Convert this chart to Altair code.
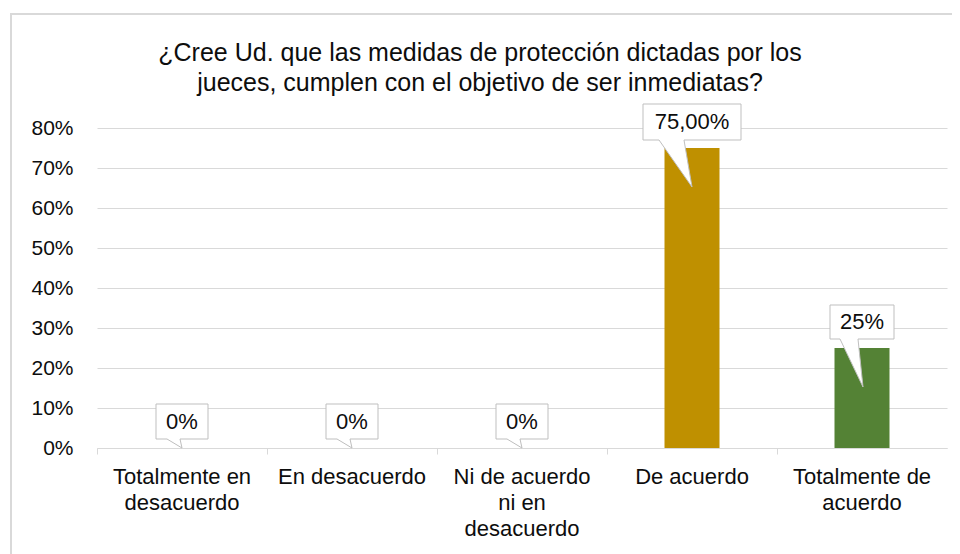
import altair as alt
import pandas as pd

# ---- data ----
categories = [
    "Totalmente en desacuerdo",
    "En desacuerdo",
    "Ni de acuerdo ni en desacuerdo",
    "De acuerdo",
    "Totalmente de acuerdo",
]
axis_label_lines = [
    ["Totalmente en", "desacuerdo"],
    ["En desacuerdo"],
    ["Ni de acuerdo", "ni en", "desacuerdo"],
    ["De acuerdo"],
    ["Totalmente de", "acuerdo"],
]
values = [0.0, 0.0, 0.0, 0.75, 0.25]
value_labels = ["0%", "0%", "0%", "75,00%", "25%"]
callout_kind = ["small", "small", "small", "wide", "mid"]
bar_colors = ["#4472C4", "#ED7D31", "#A5A5A5", "#BF9000", "#548235"]
y_ticks = [0, 0.1, 0.2, 0.3, 0.4, 0.5, 0.6, 0.7, 0.8]
title_lines = [
    "¿Cree Ud. que las medidas de protección dictadas por los",
    "jueces, cumplen con el objetivo de ser inmediatas?",
]

# callout shapes (pixel coordinates, anchored at the data point)
callout_paths = {
    "wide": "M -49 -44 L 49 -44 L 49 -8 L -8 -8 L 0 39 L -33 -8 L -49 -8 Z",
    "mid": "M -32 -43 L 32 -43 L 32 -9 L -4 -9 L 1 39 L -22 -9 L -32 -9 Z",
    "small": "M -26 -44 L 26 -44 L 26 -9 L -2 -9 L 0 0 L -15 -9 L -26 -9 Z",
}

df = pd.DataFrame({
    "cat": categories,
    "value": values,
    "label": value_labels,
    "kind": callout_kind,
})

FONT = "Liberation Sans"
TXT = "#0d0d0d"
GRID = "#d9d9d9"

# label expression for multi-line category labels
expr = "''"
for cat, lines in reversed(list(zip(categories, axis_label_lines))):
    arr = "[" + ",".join("'" + l + "'" for l in lines) + "]"
    expr = f"datum.value == '{cat}' ? {arr} : ({expr})"

x_axis = alt.Axis(
    title=None,
    labelAngle=0,
    labelExpr=expr,
    labelFont=FONT,
    labelFontSize=22,
    labelLineHeight=26,
    labelColor=TXT,
    labelPadding=12,
    labelBaseline="top",
    domainColor=GRID,
    tickColor=GRID,
    tickSize=6,
    bandPosition=0,
    grid=False,
)
x_enc = alt.X(
    "cat:N",
    sort=categories,
    scale=alt.Scale(domain=categories, paddingInner=0, paddingOuter=0),
    axis=x_axis,
)
y_axis = alt.Axis(
    title=None,
    values=y_ticks,
    tickCount=9,
    format=".0%",
    labelFont=FONT,
    labelFontSize=21,
    labelColor=TXT,
    labelPadding=24,
    labelOverlap=False,
    ticks=False,
    tickSize=0,
    domain=False,
    grid=True,
    gridColor=GRID,
    gridWidth=1,
)
y_enc = alt.Y(
    "value:Q",
    scale=alt.Scale(domain=[0, 0.8], nice=False),
    axis=y_axis,
)

base = alt.Chart(df)

bars = base.mark_bar(size=55).encode(
    x=x_enc,
    y=y_enc,
    color=alt.Color("cat:N", scale=alt.Scale(domain=categories, range=bar_colors), legend=None),
)

callouts = base.mark_point(
    filled=True, fill="white", stroke="#bfbfbf", strokeWidth=1, opacity=1, size=4
).encode(
    x=x_enc,
    y=y_enc,
    shape=alt.Shape(
        "kind:N",
        scale=alt.Scale(domain=list(callout_paths.keys()), range=list(callout_paths.values())),
        legend=None,
    ),
)

texts = base.mark_text(
    font=FONT, fontSize=22, color=TXT, baseline="middle", align="center", yOffset=-26
).encode(
    x=x_enc,
    y=y_enc,
    text="label:N",
)

frame = alt.Chart(pd.DataFrame({"a": [0]})).mark_rect(
    fillOpacity=0, stroke=GRID, strokeWidth=2
).encode(
    x=alt.value(-86), x2=alt.value(1000), y=alt.value(-114), y2=alt.value(700)
)

chart = alt.layer(frame, bars, callouts, texts).properties(
    width=850,
    height=320,
    padding={"left": 89, "top": 120, "right": 5, "bottom": 106},
    autosize=alt.AutoSizeParams(type="none"),
    title=alt.Title(
        title_lines,
        font=FONT,
        fontSize=25,
        fontWeight="normal",
        color=TXT,
        anchor="middle",
        dx=-42,
        offset=-83,
        lineHeight=30,
    ),
).configure(background="white").configure_view(stroke=None)

chart.save("out.html", embed_options={"renderer": "svg", "actions": False})
